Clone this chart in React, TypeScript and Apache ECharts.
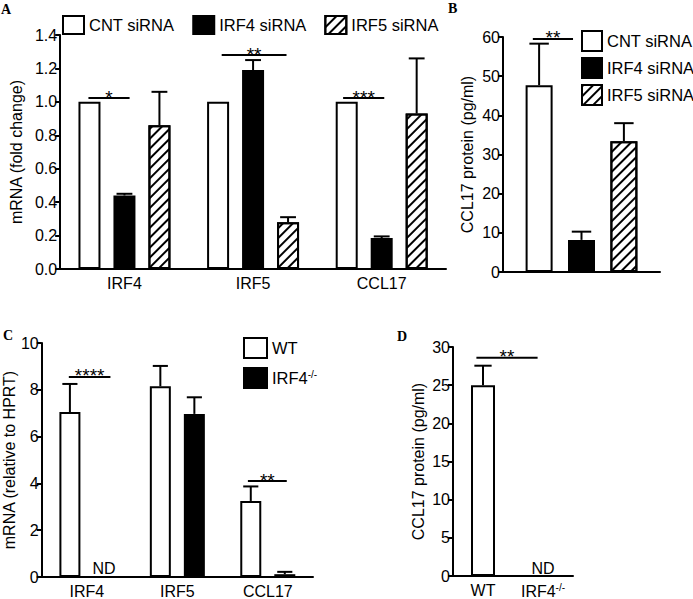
import React, { useEffect, useRef } from 'react';
import * as echarts from 'echarts';

// ---------- Data ----------
const catsA = ['IRF4', 'IRF5', 'CCL17'];
const cntA = [1.0, 1.0, 1.0];
const irf4A = [0.44, 1.19, 0.185];
const irf5A = [0.86, 0.28, 0.93];
const cntErrA = [null, null, null];
const irf4ErrA = [0.45, 1.25, 0.195];
const irf5ErrA = [1.06, 0.31, 1.26];
const sigA = [
  { cat: 0, y: 1.023, f0: -0.28, f1: 0.04, t: '*' },
  { cat: 1, y: 1.28, f0: -0.244, f1: 0.26, t: '**' },
  { cat: 2, y: 1.023, f0: -0.3, f1: 0.02, t: '***' },
];

const catsB = [''];
const cntB = [47.7];
const irf4B = [8.2];
const irf5B = [33.4];
const cntErrB = [58.3];
const irf4ErrB = [10.3];
const irf5ErrB = [38.0];
const sigB = [{ cat: 0, y: 59.5, f0: -0.31, f1: -0.054, t: '**' }];

const catsC = ['IRF4', 'IRF5', 'CCL17'];
const wtC = [7.05, 8.15, 3.25];
const koC = [0, 6.97, 0.12];
const wtErrC = [8.25, 9.02, 3.87];
const koErrC = [null, 7.68, 0.22];
const ndC = [true, false, false];
const sigC = [
  { cat: 0, y: 8.55, f0: -0.2, f1: 0.26, t: '****' },
  { cat: 2, y: 4.1, f0: -0.22, f1: 0.21, t: '**' },
];

const catsD = ['WT', 'IRF4-/-'];
const valD = [25, 0];
const errD = [27.55, null];
const ndD = [false, true];
const sigD = [{ cat: 0, y: 28.6, f0: -0.11, f1: 0.91, t: '**' }];

// ---------- Styles ----------
const FONT = 'Liberation Sans, Arial, sans-serif';
const SERIF = 'Liberation Serif, Times New Roman, serif';
const whiteStyle = { color: '#fff', borderColor: '#000', borderWidth: 2 };
const blackStyle = { color: '#000', borderColor: '#000', borderWidth: 2 };
const hatchStyle = {
  color: '#fff',
  borderColor: '#000',
  borderWidth: 2,
  decal: {
    symbol: 'rect',
    symbolSize: 1,
    color: '#000',
    dashArrayX: [1, 0],
    dashArrayY: [2, 5],
    rotation: -Math.PI / 4,
  },
};

function errSeries(vals: number[], errs: (number | null)[], g: number, i: number, n: number, bw: number, gap: number) {
  const data = vals
    .map((v, k) => (errs[k] == null ? null : [k, v, errs[k] as number]))
    .filter((d) => d != null);
  const off = (i - (n - 1) / 2) * bw * (1 + gap);
  const cap = bw * 0.36;
  return {
    type: 'custom',
    name: 'err' + g + '_' + i,
    xAxisIndex: g,
    yAxisIndex: g,
    silent: true,
    z: 4,
    data,
    renderItem: (_p: any, api: any) => {
      const base = api.coord([api.value(0), api.value(1)]);
      const top = api.coord([api.value(0), api.value(2)]);
      const x = base[0] + off;
      const st = { stroke: '#000', lineWidth: 2 };
      return {
        type: 'group',
        children: [
          { type: 'line', shape: { x1: x, y1: base[1], x2: x, y2: top[1] }, style: st },
          { type: 'line', shape: { x1: x - cap, y1: top[1], x2: x + cap, y2: top[1] }, style: st },
        ],
      };
    },
  };
}

function sigSeries(items: { cat: number; y: number; f0: number; f1: number; t: string }[], g: number) {
  return {
    type: 'custom',
    name: 'sig' + g,
    xAxisIndex: g,
    yAxisIndex: g,
    silent: true,
    z: 5,
    data: items.map((s) => [s.cat, s.y, s.f0, s.f1]),
    renderItem: (p: any, api: any) => {
      const c = api.coord([api.value(0), api.value(1)]);
      const band = api.size([1, 0])[0];
      const x0 = c[0] + api.value(2) * band;
      const x1 = c[0] + api.value(3) * band;
      return {
        type: 'group',
        children: [
          { type: 'line', shape: { x1: x0, y1: c[1], x2: x1, y2: c[1] }, style: { stroke: '#000', lineWidth: 2 } },
          {
            type: 'text',
            x: (x0 + x1) / 2,
            y: c[1] - 1,
            style: {
              text: items[p.dataIndex].t,
              fill: '#000',
              fontSize: 19,
              fontFamily: FONT,
              align: 'center',
              verticalAlign: 'middle',
            },
          },
        ],
      };
    },
  };
}

const grids = [
  { left: 52, top: 35, width: 394, height: 234 },
  { left: 503, top: 37, width: 157, height: 235 },
  { left: 41, top: 343, width: 272, height: 234 },
  { left: 453, top: 347, width: 120, height: 233 },
];

const axisLine = { show: true, lineStyle: { color: '#000', width: 2 } };
const rich = { sup: { fontSize: 10, fontFamily: FONT, color: '#000', padding: [0, 0, 8, 0] } };
const supFmt = (s: string) => (s === 'IRF4-/-' ? 'IRF4{sup|-/-}' : s);

function xAx(g: number, data: string[], show = true) {
  return {
    type: 'category',
    gridIndex: g,
    data,
    axisLine,
    axisTick: { show: false },
    axisLabel: { show, interval: 0, color: '#000', fontSize: 16, fontFamily: FONT, margin: 6, formatter: supFmt, rich },
  };
}

function yAx(g: number, max: number, interval: number, name: string, gap: number, fmt?: (v: number) => string) {
  return {
    type: 'value',
    gridIndex: g,
    min: 0,
    max,
    interval,
    name,
    nameLocation: 'middle',
    nameGap: gap,
    nameTextStyle: { color: '#000', fontSize: 16, fontFamily: FONT },
    axisLine,
    axisTick: { show: true, length: 5, lineStyle: { color: '#000', width: 2 } },
    splitLine: { show: false },
    axisLabel: { color: '#000', fontSize: 16, fontFamily: FONT, margin: 3, formatter: fmt },
  };
}

const legText = { color: '#000', fontSize: 16.5, fontFamily: FONT };

const option: any = {
  animation: false,
  backgroundColor: '#fff',
  grid: grids,
  xAxis: [xAx(0, catsA), xAx(1, catsB, false), xAx(2, catsC), xAx(3, catsD)],
  yAxis: [
    yAx(0, 1.4, 0.2, 'mRNA (fold change)', 30, (v: number) => v.toFixed(1)),
    yAx(1, 60, 10, 'CCL17 protein (pg/ml)', 28),
    yAx(2, 10, 2, 'mRNA (relative to HPRT)', 20),
    yAx(3, 30, 5, 'CCL17 protein (pg/ml)', 27),
  ],
  legend: [
    {
      data: ['CNT siRNA', 'IRF4 siRNA', 'IRF5 siRNA'],
      left: 62, top: 15, padding: 0, orient: 'horizontal', icon: 'rect',
      itemWidth: 21, itemHeight: 18, itemGap: 18, selectedMode: false, textStyle: legText,
    },
    {
      data: ['CNT siRNA', 'IRF4 siRNA', 'IRF5 siRNA'],
      left: 581, top: 30, padding: 0, orient: 'vertical', icon: 'rect',
      itemWidth: 20, itemHeight: 20, itemGap: 5, selectedMode: false, textStyle: legText,
    },
    {
      data: ['WT', 'IRF4-/-'],
      left: 243, top: 337, padding: 0, orient: 'vertical', icon: 'rect',
      itemWidth: 23, itemHeight: 20, itemGap: 8, selectedMode: false,
      formatter: supFmt, textStyle: { ...legText, rich },
    },
  ],
  graphic: [
    { type: 'text', left: 1, top: 2, style: { text: 'A', font: 'bold 14px ' + SERIF, fill: '#000' } },
    { type: 'text', left: 448, top: 1, style: { text: 'B', font: 'bold 14px ' + SERIF, fill: '#000' } },
    { type: 'text', left: 3, top: 328, style: { text: 'C', font: 'bold 14px ' + SERIF, fill: '#000' } },
    { type: 'text', left: 397, top: 329, style: { text: 'D', font: 'bold 14px ' + SERIF, fill: '#000' } },
  ],
  series: [
    // Panel A
    { type: 'bar', name: 'CNT siRNA', xAxisIndex: 0, yAxisIndex: 0, data: cntA, barWidth: 22, barGap: '59%', itemStyle: whiteStyle },
    { type: 'bar', name: 'IRF4 siRNA', xAxisIndex: 0, yAxisIndex: 0, data: irf4A, barWidth: 22, barGap: '59%', itemStyle: blackStyle },
    { type: 'bar', name: 'IRF5 siRNA', xAxisIndex: 0, yAxisIndex: 0, data: irf5A, barWidth: 22, barGap: '59%', itemStyle: hatchStyle },
    errSeries(cntA, cntErrA, 0, 0, 3, 22, 0.59),
    errSeries(irf4A, irf4ErrA, 0, 1, 3, 22, 0.59),
    errSeries(irf5A, irf5ErrA, 0, 2, 3, 22, 0.59),
    sigSeries(sigA, 0),
    // Panel B
    { type: 'bar', name: 'CNT siRNA', xAxisIndex: 1, yAxisIndex: 1, data: cntB, barWidth: 27, barGap: '57%', itemStyle: whiteStyle },
    { type: 'bar', name: 'IRF4 siRNA', xAxisIndex: 1, yAxisIndex: 1, data: irf4B, barWidth: 27, barGap: '57%', itemStyle: blackStyle },
    { type: 'bar', name: 'IRF5 siRNA', xAxisIndex: 1, yAxisIndex: 1, data: irf5B, barWidth: 27, barGap: '57%', itemStyle: hatchStyle },
    errSeries(cntB, cntErrB, 1, 0, 3, 27, 0.57),
    errSeries(irf4B, irf4ErrB, 1, 1, 3, 27, 0.57),
    errSeries(irf5B, irf5ErrB, 1, 2, 3, 27, 0.57),
    sigSeries(sigB, 1),
    // Panel C
    { type: 'bar', name: 'WT', xAxisIndex: 2, yAxisIndex: 2, data: wtC, barWidth: 21, barGap: '62%', itemStyle: whiteStyle },
    {
      type: 'bar', name: 'IRF4-/-', xAxisIndex: 2, yAxisIndex: 2, barWidth: 21, barGap: '62%', itemStyle: blackStyle,
      data: koC.map((v, k) =>
        ndC[k]
          ? { value: v, label: { show: true, position: 'top', distance: 0, formatter: 'ND', color: '#000', fontSize: 16, fontFamily: FONT } }
          : v
      ),
    },
    errSeries(wtC, wtErrC, 2, 0, 2, 21, 0.62),
    errSeries(koC, koErrC, 2, 1, 2, 21, 0.62),
    sigSeries(sigC, 2),
    // Panel D
    {
      type: 'bar', name: 'D', xAxisIndex: 3, yAxisIndex: 3, barWidth: 24, itemStyle: whiteStyle,
      data: valD.map((v, k) =>
        ndD[k]
          ? { value: v, itemStyle: { borderWidth: 0 }, label: { show: true, position: 'top', distance: 0, formatter: 'ND', color: '#000', fontSize: 16, fontFamily: FONT } }
          : v
      ),
    },
    errSeries(valD, errD, 3, 0, 1, 24, 0),
    sigSeries(sigD, 3),
  ],
};

export default function App() {
  const ref = useRef<HTMLDivElement>(null);
  useEffect(() => {
    const chart = echarts.init(ref.current!, null, { renderer: 'svg' });
    chart.setOption(option);
    return () => chart.dispose();
  }, []);
  return (
    <div
      ref={ref}
      style={{ position: 'absolute', left: 0, top: 0, width: 693, height: 599, background: '#fff' }}
    />
  );
}
